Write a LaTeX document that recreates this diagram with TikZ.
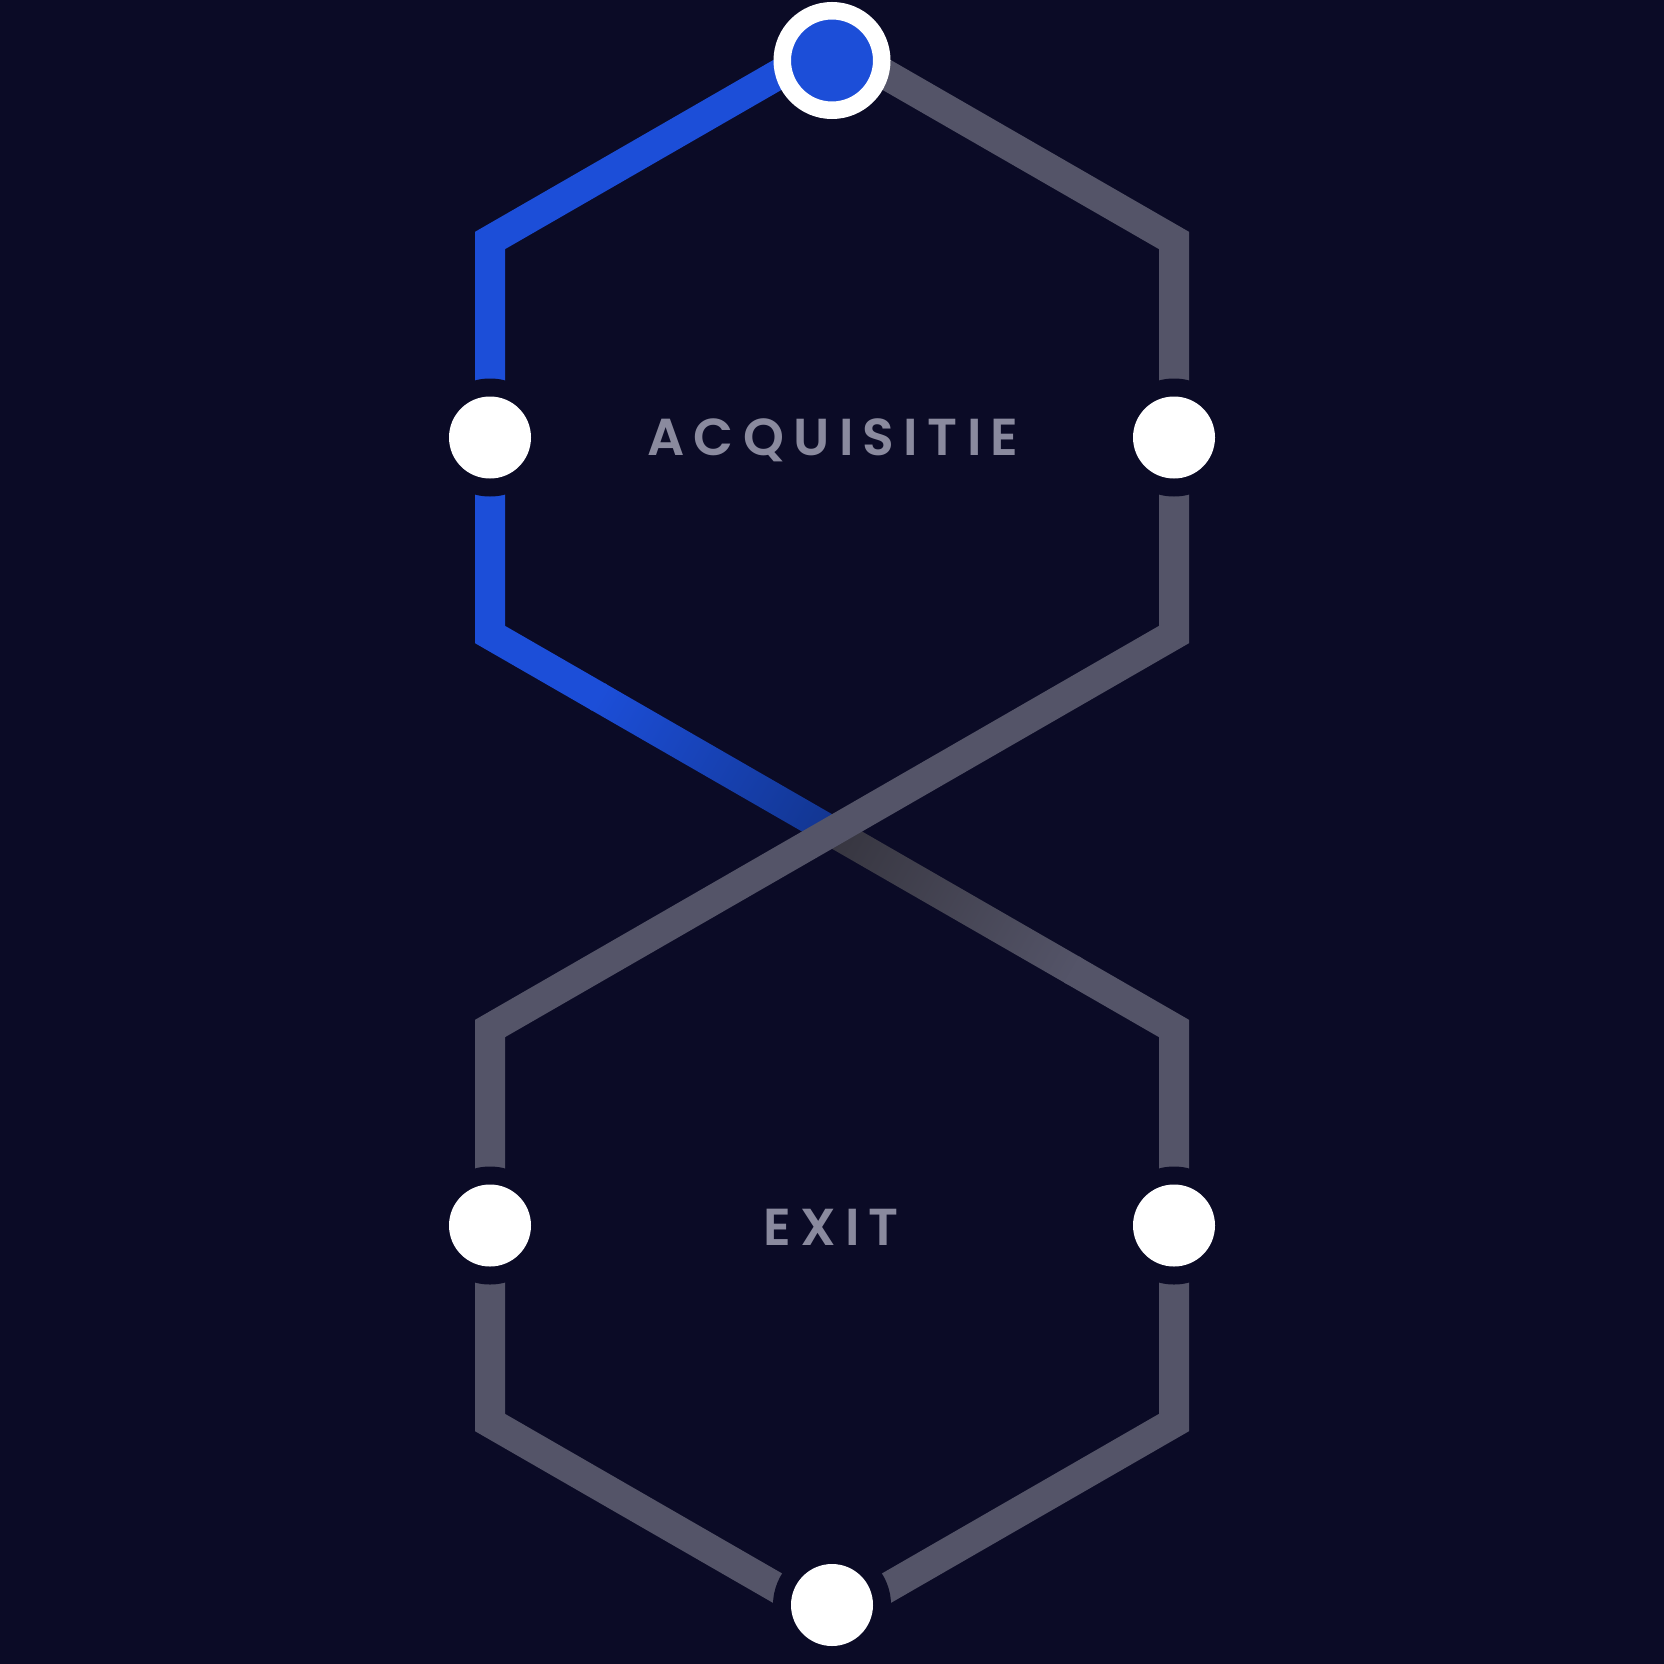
\documentclass[tikz,border=0pt]{standalone}
\usepackage{fontspec}
\usetikzlibrary{calc}
\newfontfamily\labelfont{Poppins}[UprightFont={* SemiBold},LetterSpace=18]
\definecolor{bgnavy}{HTML}{0B0B26}
\definecolor{lineblue}{HTML}{1C4ED8}
\definecolor{darkblue}{HTML}{12358F}
\definecolor{linegray}{HTML}{545468}
\definecolor{darkgray}{HTML}{36353F}
\definecolor{textgray}{HTML}{8A8A9E}
\tikzset{
  track/.style={line width=30pt, line join=miter, line cap=butt},
  gapdisc/.style={circle, fill=bgnavy, minimum size=118pt, inner sep=0pt, outer sep=0pt},
  whitedot/.style={circle, fill=white, minimum size=82pt, inner sep=0pt, outer sep=0pt},
  ringdot/.style={circle, fill=lineblue, draw=white, line width=17.5pt, minimum size=99.5pt, inner sep=0pt, outer sep=0pt},
  steplabel/.style={text=textgray, font=\labelfont\fontsize{52}{54}\selectfont, inner sep=0pt}
}
\begin{document}
\begin{tikzpicture}[x=1pt,y=-1pt]
\fill[bgnavy] (0,0) rectangle (1664,1664);
\useasboundingbox (0,0) rectangle (1664,1664);
% geometry
\coordinate (vtop) at (832,43.5);
\coordinate (ul) at (490,240.5);
\coordinate (ur) at (1174,240.5);
\coordinate (ml) at (490,634.5);
\coordinate (mr) at (1174,634.5);
\coordinate (ll) at (490,1028.5);
\coordinate (lr) at (1174,1028.5);
\coordinate (bl) at (490,1422.5);
\coordinate (br) at (1174,1422.5);
\coordinate (vbot) at (832,1619.5);
\coordinate (blueend) at ($(ml)!0.16!(lr)$);
\coordinate (graystart) at ($(ml)!0.85!(lr)$);
% blue track
\draw[track, lineblue] (vtop) -- (ul) -- (ml) -- (blueend);
% gradient bands along the crossing diagonal
\begin{scope}[transform canvas={shift={(ml)}, rotate=-29.94}]
  \shade[left color=lineblue, right color=darkblue] (124,-15) rectangle (395.5,15);
  \shade[left color=darkgray, right color=linegray] (394,-15) rectangle (675,15);
\end{scope}
% gray tracks
\draw[track, linegray] (graystart) -- (lr) -- (br) -- (vbot);
\draw[track, linegray] (vtop) -- (ur) -- (mr) -- (ll) -- (bl) -- (vbot);
% nodes
\node[gapdisc] (gul) at (490,437.5) {};
\node[gapdisc] (gur) at (1174,437.5) {};
\node[gapdisc] (gll) at (490,1225.5) {};
\node[gapdisc] (glr) at (1174,1225.5) {};
\node[gapdisc] (gbot) at (832,1605) {};
\node[whitedot] (nul) at (490,437.5) {};
\node[whitedot] (nur) at (1174,437.5) {};
\node[whitedot] (nll) at (490,1225.5) {};
\node[whitedot] (nlr) at (1174,1225.5) {};
\node[whitedot] (nbot) at (832,1605) {};
\node[ringdot] (ntop) at (832,60.5) {};
% labels
\node[steplabel] (lacq) at (833,440) {ACQUISITIE};
\node[steplabel] (lexit) at (831,1227) {EXIT};
\end{tikzpicture}
\end{document}
